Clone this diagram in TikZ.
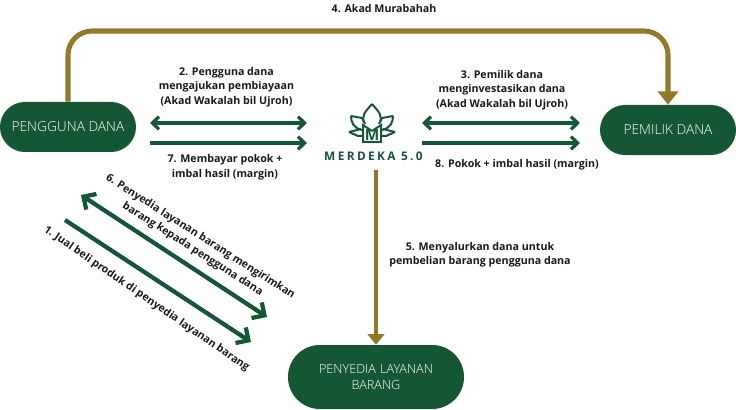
\documentclass[tikz,border=0pt]{standalone}
\usepackage{fontspec}
\setmainfont{Open Sans}
\usetikzlibrary{arrows.meta}
\definecolor{hijau}{HTML}{155734}
\definecolor{emas}{HTML}{917A2B}
\newfontfamily\tipis{Open Sans Light}
\newfontfamily\logofont[LetterSpace=20]{Open Sans}
\tikzset{
	pihak/.style={fill=hijau, text=white, inner sep=0pt, align=center, font=\tipis\fontsize{10.3}{14}\selectfont},
	ket/.style={align=center, text=black!90, font=\bfseries\fontsize{8}{10.9}\selectfont, inner sep=0pt},
	barb/.tip={Straight Barb[length=5pt,width=9.5pt,line width=2.4pt]},
	barbbesar/.tip={Straight Barb[length=7pt,width=14pt,line width=3.2pt]},
	panah/.style={draw=hijau, line width=2.4pt, -barb},
	panahdua/.style={draw=hijau, line width=2.4pt, barb-barb},
	miring/.style={draw=hijau, line width=3.2pt, -barbbesar},
	miringdua/.style={draw=hijau, line width=3.2pt, barbbesar-barbbesar},
	emasline/.style={draw=emas, line width=3.8pt},
	logoline/.style={draw=hijau, line width=1.5pt, line join=miter},
}
\begin{document}
\begin{tikzpicture}[x=0.75pt, y=-0.75pt]
	\useasboundingbox (0,0) rectangle (736,410);
	\node [pihak, rounded corners=18.7pt, minimum width=102pt, minimum height=37.5pt] (pengguna) at (68,127) {PENGGUNA DANA};
	\node [pihak, rounded corners=18.7pt, minimum width=102pt, minimum height=37.5pt] (pemilik) at (668,130) {PEMILIK DANA};
	\node [pihak, rounded corners=23.9pt, minimum width=132pt, minimum height=48pt, text width=110pt, font=\tipis\fontsize{9.5}{12}\selectfont] (penyedia) at (376,377) {PENYEDIA LAYANAN\\BARANG};

	% logo
	\node [font=\logofont\bfseries\fontsize{8.9}{10}\selectfont, text=hijau, inner sep=0pt] (logo) at (373.5,156) {MERDEKA 5.0};
	\foreach \s in {-1,1} {
		\begin{scope}[shift={(372,0)}, xscale=\s]
			\draw [logoline] (7,124) .. controls (12,116) and (6,111) .. (0,104);
			\draw [logoline] (21,116) -- (10,118) -- (8,122);
			\draw [logoline] (21,116) .. controls (21,123) and (18,128) .. (10,130);
			\draw [logoline] (23,132) -- (11,129);
			\draw [logoline] (23,132) -- (14,136) -- (9,136);
			\draw [logoline] (0,131) -- (9,125) -- (9,142) -- (0,142);
		\end{scope}
	}
	\node [font=\bfseries\fontsize{11.5}{11.5}\selectfont, text=hijau, inner sep=0pt] (logoM) at (372,135) {M};

	\coordinate (puncak) at (668,31);
	\coordinate (logoBawah) at (376,170);
	\draw [emasline, rounded corners=18pt, -{Triangle[length=10pt,width=15pt]}] (pengguna.north) |- (puncak) -- (pemilik.north);
	\draw [emasline, line width=3pt, -{Triangle[length=8pt,width=12.5pt]}] (logoBawah) -- (penyedia.north);

	\draw [panahdua] (150,123) -- (307,123);
	\draw [panah] (150,143) -- (307,143);
	\draw [panahdua] (422,123) -- (580,123);
	\draw [panah] (422,143) -- (580,143);
	\draw [miringdua] (81,195) -- (267,317);
	\draw [miring] (65,220) -- (251,342);

	\node [ket] (t4) at (384,9) {4. Akad Murabahah};
	\node [ket] (t2) at (226.5,87) {2. Pengguna dana\\mengajukan pembiayaan\\(Akad Wakalah bil Ujroh)};
	\node [ket] (t7) at (225,167) {7. Membayar pokok +\\imbal hasil (margin)};
	\node [ket] (t3) at (502,90) {3. Pemilik dana\\menginvestasikan dana\\(Akad Wakalah bil Ujroh)};
	\node [ket] (t8) at (517,165) {8. Pokok + imbal hasil (margin)};
	\node [ket] (t5) at (480,254.5) {5. Menyalurkan dana untuk\\pembelian barang pengguna dana};
	\node [ket, rotate=-32.5] (t6) at (196.5,243) {6. Penyedia layanan barang mengirimkan\\barang kepada pengguna dana};
	\node [ket, rotate=-34.5] (t1) at (146.5,299) {1. Jual beli produk di penyedia layanan barang};
\end{tikzpicture}
\end{document}
